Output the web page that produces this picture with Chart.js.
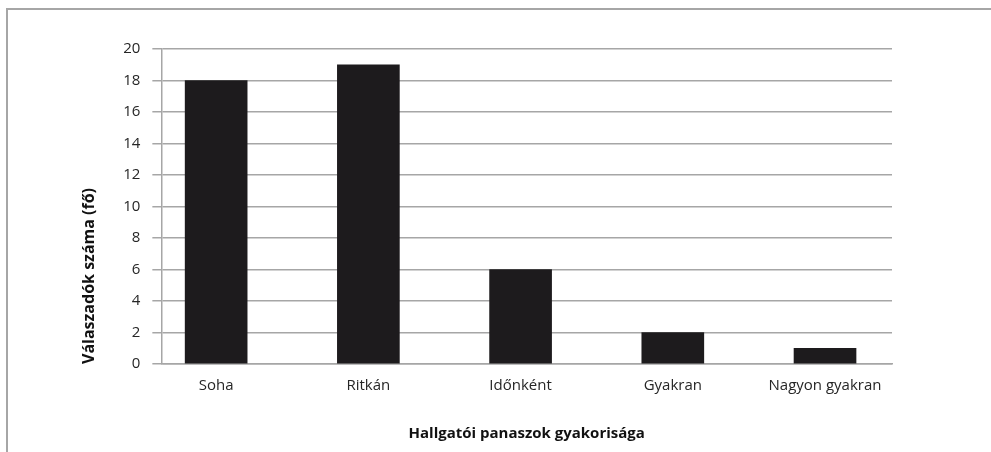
<!DOCTYPE html>
<html>
<head>
<meta charset="utf-8">
<script src="https://cdn.jsdelivr.net/npm/chart.js@4/dist/chart.umd.min.js"></script>
<style>
  html, body { margin: 0; padding: 0; background: #fff; }
  #keret { position: absolute; left: 6px; top: 8px; width: 1000px; height: 460px; border-top: 2px solid #a6a6a6; border-left: 2px solid #a6a6a6; }
  #grafikon { position: absolute; left: 0; top: 0; }
</style>
</head>
<body>
<div id="keret"></div>
<canvas id="grafikon" width="991" height="452"></canvas>
<script>
const categories = ["Soha", "Ritkán", "Időnként", "Gyakran", "Nagyon gyakran"];
const responses = [18, 19, 6, 2, 1];
const yMax = 20;
const yStep = 2;

document.addEventListener("DOMContentLoaded", () => {
  const ctx = document.getElementById("grafikon").getContext("2d");
  const betu = "'Open Sans', 'Noto Sans', sans-serif";

  new Chart(ctx, {
    type: "bar",
    data: {
      datasets: [{
        label: "Válaszadók száma (fő)",
        data: categories.map((c, i) => ({ x: i, y: responses[i] })),
        backgroundColor: "#1d1b1d",
        barThickness: 62
      }]
    },
    options: {
      responsive: false,
      animation: false,
      layout: { padding: { left: 80, right: 99, top: 49, bottom: 9 } },
      plugins: {
        legend: { display: false },
        tooltip: { enabled: false }
      },
      scales: {
        x: {
          type: "linear",
          offset: false,
          min: -0.36,
          max: 4.44,
          afterBuildTicks: (axis) => {
            axis.ticks = categories.map((c, i) => ({ value: i }));
          },
          grid: { display: false },
          border: { display: true, color: "#a6a6a6", width: 1.5 },
          ticks: {
            autoSkip: false,
            maxRotation: 0,
            padding: 5,
            color: "#262626",
            font: { family: betu, size: 15 },
            callback: (v) => categories[v]
          },
          title: {
            display: true,
            text: "Hallgatói panaszok gyakorisága",
            color: "#111",
            font: { family: betu, size: 15, weight: "bold" },
            padding: { top: 25, bottom: 0 }
          }
        },
        y: {
          min: 0,
          max: yMax,
          ticks: {
            stepSize: yStep,
            padding: 12,
            color: "#262626",
            font: { family: betu, size: 15 }
          },
          grid: { color: "#a6a6a6", lineWidth: 1.5, tickLength: 9 },
          border: { display: true, color: "#a6a6a6", width: 1.5 },
          title: {
            display: true,
            text: "Válaszadók száma (fő)",
            align: "start",
            color: "#111",
            font: { family: betu, size: 16, weight: "bold" },
            padding: { top: 0, bottom: 12 }
          }
        }
      }
    }
  });
});
</script>
</body>
</html>
